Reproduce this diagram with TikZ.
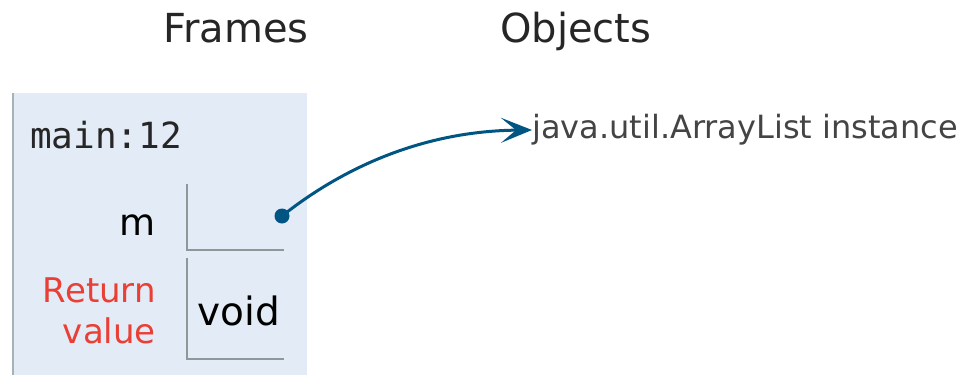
\documentclass[tikz,border=0pt]{standalone}
\usepackage{fontspec}
\setmainfont{DejaVu Sans}
\newfontfamily\codefont{DejaVu Sans Mono}
\usetikzlibrary{arrows.meta}
\definecolor{framebg}{HTML}{E2EBF6}
\definecolor{frameedge}{HTML}{A6B3B6}
\definecolor{ptrcol}{HTML}{005583}
\definecolor{retcol}{HTML}{E93F34}
\definecolor{heaptext}{HTML}{444444}
\tikzset{
  heading/.style={font=\fontsize{40}{44}\selectfont, text=black!85, inner sep=0, anchor=base west},
  varname/.style={font=\fontsize{37}{40}\selectfont, text=black, inner sep=0, anchor=base east},
  retname/.style={font=\fontsize{34}{40}\selectfont, text=retcol, inner sep=0, anchor=base east},
  valtext/.style={font=\fontsize{39}{42}\selectfont, text=black, inner sep=0, anchor=base west},
  cellline/.style={draw=frameedge!85!black, line width=2pt},
  pointer/.style={draw=ptrcol, line width=3pt, -{Stealth[length=31pt,width=25pt,inset=15pt]}},
}
\begin{document}
\begin{tikzpicture}[x=1pt,y=-1pt]
  \useasboundingbox (0,0) rectangle (959,375);
  % column headings
  \node[heading] (hframes) at (163,42) {Frames};
  \node[heading] (hobjects) at (500,42) {Objects};
  % stack frame
  \fill[framebg] (12,93) rectangle (307,375);
  \draw[frameedge, line width=2pt] (13,93) -- (13,375);
  \node[font=\codefont\fontsize{36}{40}\selectfont, text=black!85, inner sep=0, anchor=base west] (fname) at (30,148) {main:12};
  % variable m
  \node[varname] (vm) at (156,235) {m};
  \draw[cellline] (187,184) -- (187,250) -- (284,250);
  \node[circle, fill=ptrcol, inner sep=0, minimum size=15pt] (ptr) at (282,216) {};
  % return value
  \node[retname] (ret1) at (156,302) {Return};
  \node[retname] (ret2) at (156,343) {value};
  \draw[cellline] (187,258) -- (187,359) -- (284,359);
  \node[valtext] (vvoid) at (197,325) {void};
  % heap object
  \node[font=\fontsize{32}{36}\selectfont, text=heaptext, inner sep=0, anchor=west] (obj) at (532,130) {java.util.ArrayList instance};
  \draw[pointer] (ptr.center) .. controls (340,170) and (420,131) .. (obj.west);
\end{tikzpicture}
\end{document}
